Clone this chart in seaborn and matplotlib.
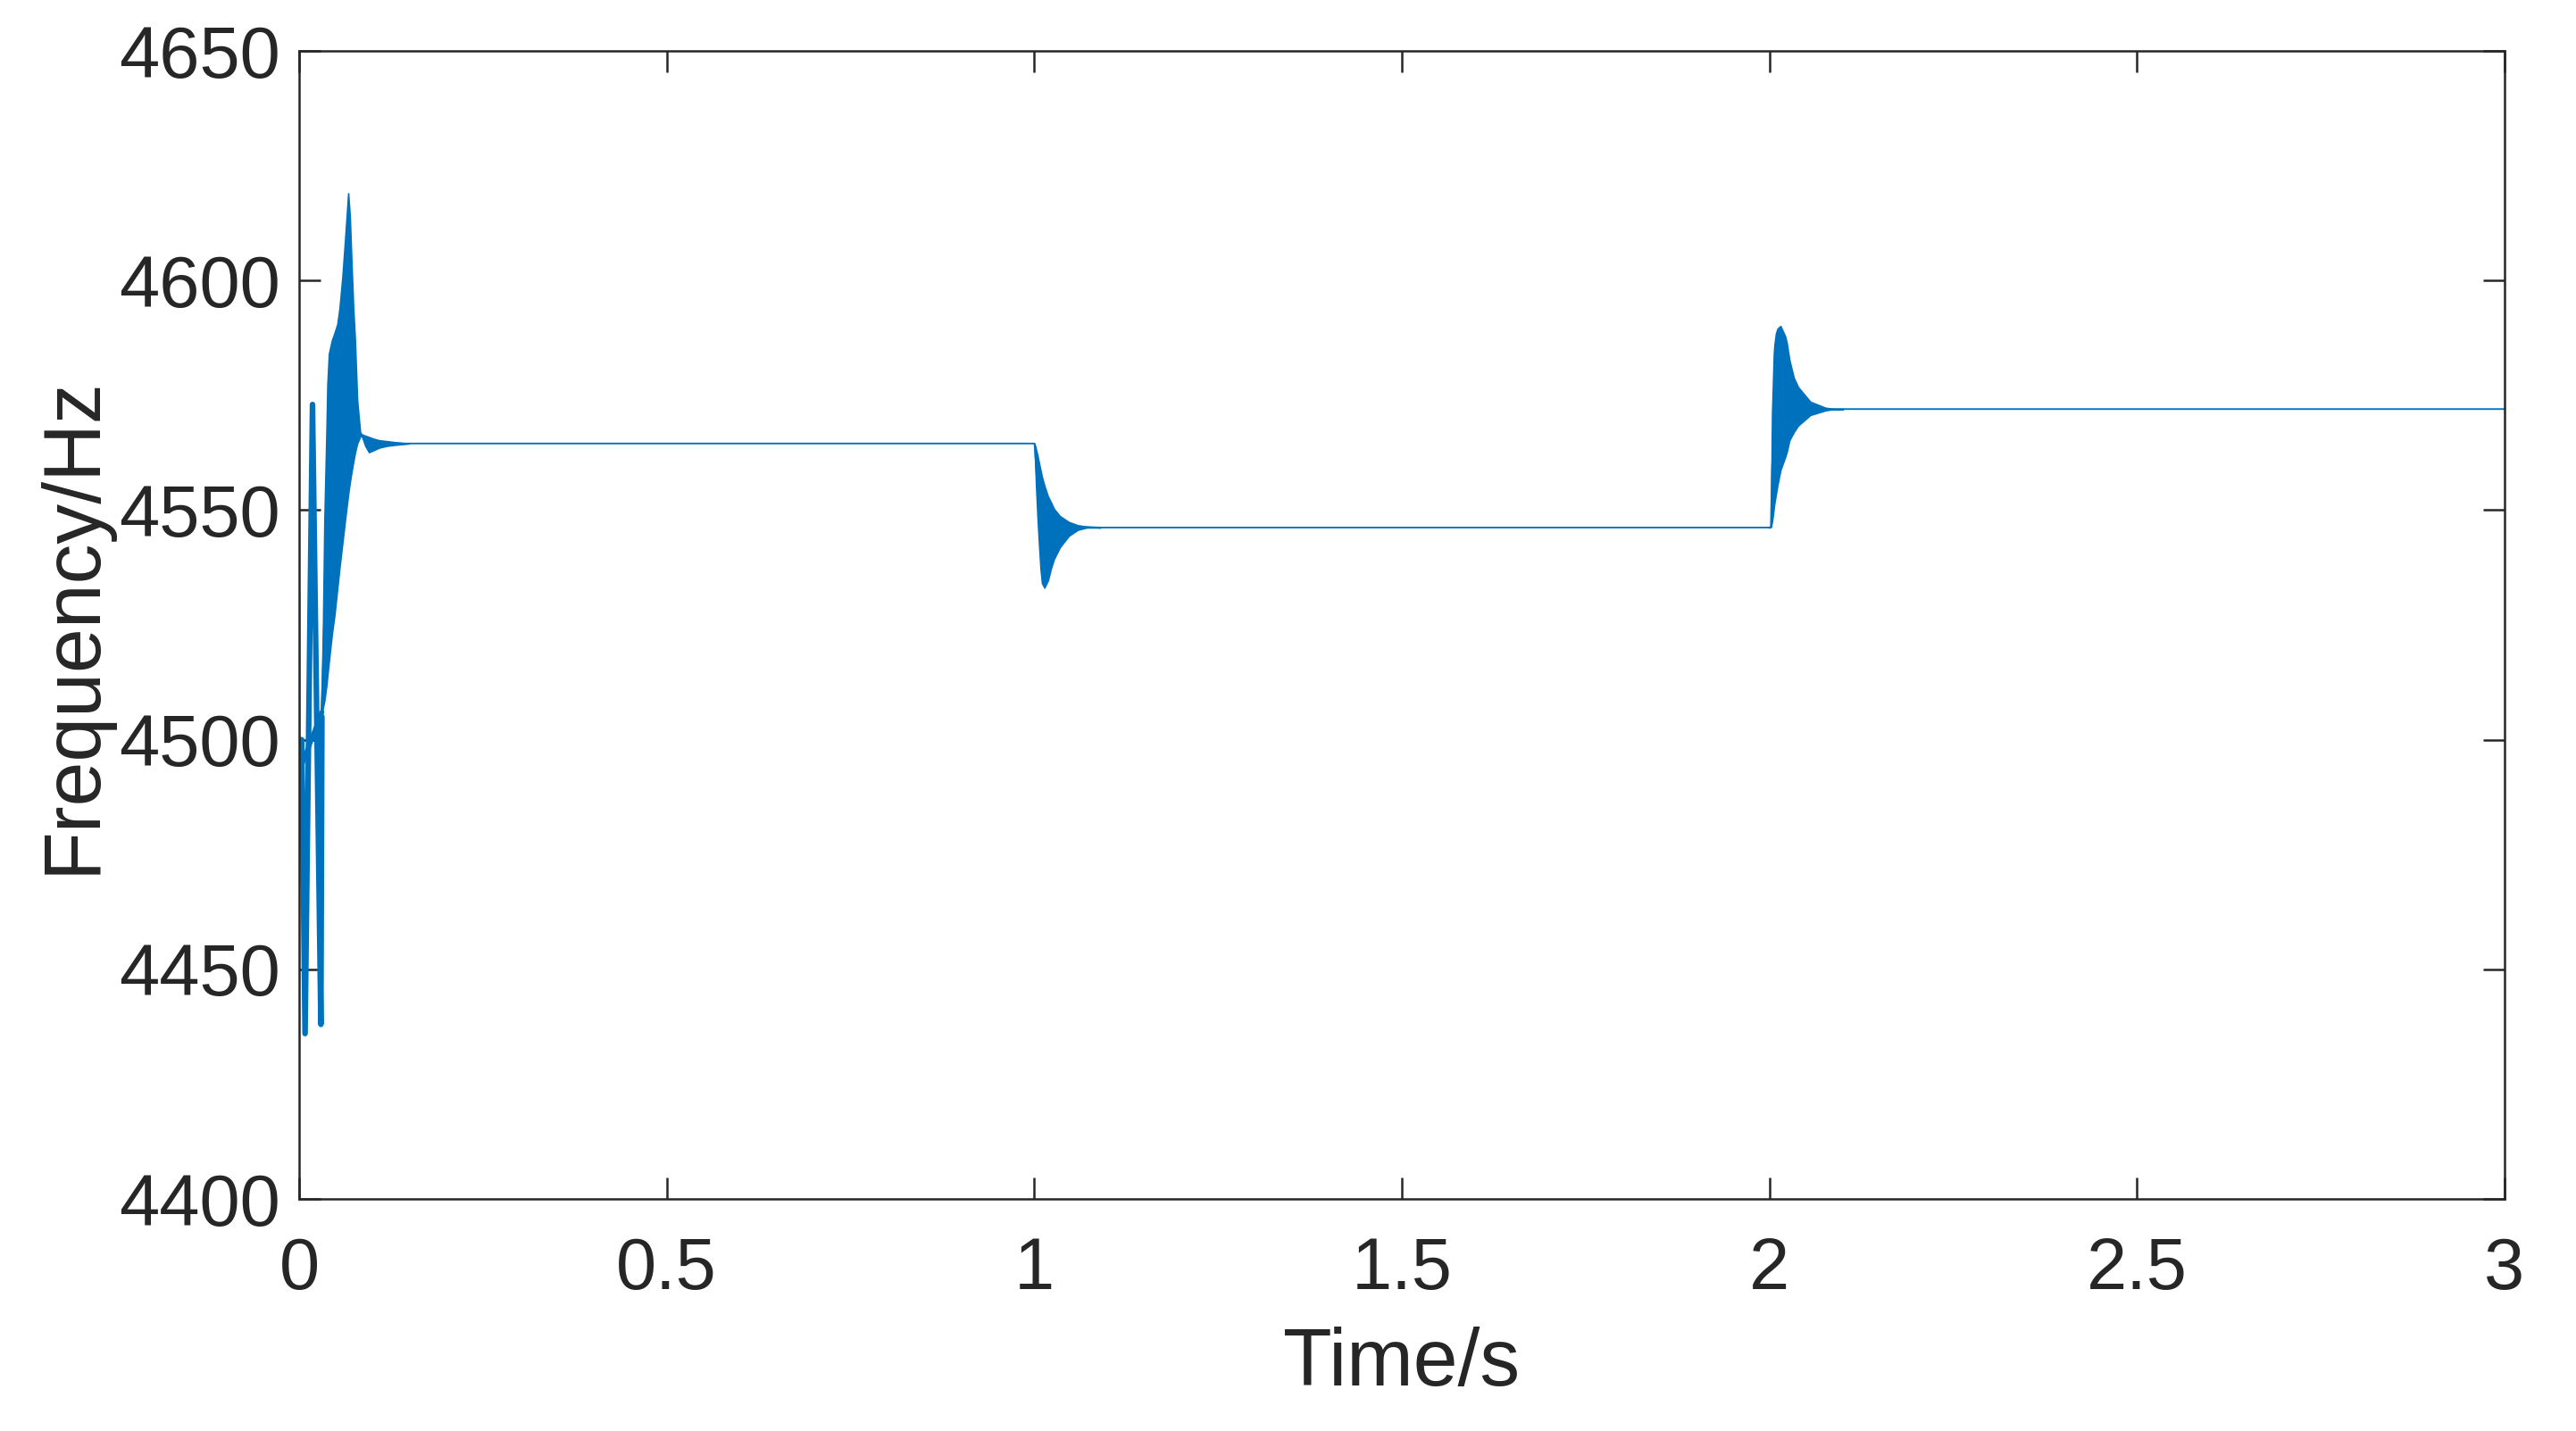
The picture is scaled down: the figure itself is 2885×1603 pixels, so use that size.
import numpy as np
import pandas as pd
import seaborn as sns
import matplotlib.pyplot as plt

# start-up strands before the oscillation band (time s, frequency Hz)
spike_t = [0.0, 0.0, 0.0035, 0.0081, 0.0182, 0.0296, 0.031]
spike_f = [4468, 4532, 4500, 4436, 4573, 4438, 4505]
drift_t = [0.0, 0.031]
drift_f = [4493, 4506]

# start-up band envelope
tA = [0.030, 0.0325, 0.0344, 0.0373, 0.0385, 0.0405, 0.0446, 0.048, 0.052, 0.055,
      0.059, 0.063, 0.0668, 0.069, 0.0715, 0.0737, 0.076, 0.079, 0.083, 0.085,
      0.090, 0.095, 0.102, 0.109, 0.12, 0.13, 0.15]
hiA = [4505, 4525, 4548, 4568, 4577.5, 4584, 4587, 4588.5, 4590.5, 4594,
       4601, 4610, 4619, 4614, 4603, 4594, 4587, 4574, 4567, 4566.5,
       4566.2, 4565.9, 4565.5, 4565.2, 4565.0, 4564.8, 4564.5]
loA = [4505, 4507, 4508.5, 4512, 4514, 4517, 4523, 4527, 4533, 4537.5,
       4543, 4548.5, 4553.5, 4556, 4558.5, 4560.5, 4562.5, 4564.5, 4566, 4566.3,
       4564, 4562.6, 4563.1, 4563.6, 4564.0, 4564.2, 4564.5]

# step at t = 1 s
tB = [1.0, 1.0004, 1.0024, 1.0044, 1.0065, 1.0085, 1.0105, 1.0138, 1.0186, 1.0227,
      1.0267, 1.0348, 1.047, 1.0591, 1.0713, 1.09]
hiB = [4564.5, 4564.4, 4563.2, 4561.9, 4560.2, 4558.7, 4557.2, 4555.3, 4553.0, 4551.7,
       4550.3, 4548.7, 4547.4, 4546.7, 4546.4, 4546.2]
loB = [4564.5, 4564.4, 4555.5, 4548.5, 4542.5, 4537.3, 4534.1, 4533.1, 4534.7, 4537.3,
       4539.3, 4541.9, 4544.4, 4545.7, 4546.2, 4546.2]

# step at t = 2 s
tC = [2.0, 2.002, 2.0036, 2.0049, 2.006, 2.0069, 2.0089, 2.011, 2.015, 2.0213,
      2.0235, 2.0272, 2.0332, 2.039, 2.0556, 2.0759, 2.088, 2.10]
hiC = [4546.2, 4546.4, 4571, 4578, 4584, 4586, 4588.5, 4589.5, 4590.1, 4587.9,
       4586.5, 4582.7, 4578.8, 4576.8, 4573.6, 4572.3, 4572.0, 4572.0]
loC = [4546.2, 4546.4, 4547.5, 4549, 4550.5, 4551.6, 4553.5, 4555.5, 4558.7, 4561.5,
       4562.6, 4565.2, 4567.0, 4568.4, 4570.7, 4571.7, 4572.0, 4572.0]

end_t, end_f = 3.0, 4572.0

xticks = [0, 0.5, 1, 1.5, 2, 2.5, 3]
xticklabels = ['0', '0.5', '1', '1.5', '2', '2.5', '3']
yticks = [4400, 4450, 4500, 4550, 4600, 4650]

blue = '#0072BD'
ink = '#262626'

sns.set_theme(style='white')
plt.rcParams['font.family'] = ['Liberation Sans', 'DejaVu Sans']

# centre trace through all segments (the steady parts)
seg = pd.DataFrame({
    't': tA + tB + tC + [end_t],
    'f': [(h + l) / 2 for h, l in zip(hiA + hiB + hiC, loA + loB + loC)] + [end_f],
})

fig = plt.figure(figsize=(2885 / 300, 1603 / 300), dpi=300)
ax = fig.add_axes([335 / 2885, 1 - 1343 / 1603, (2805 - 335) / 2885, (1343 - 57) / 1603])

for tt, hh, ll in [(tA, hiA, loA), (tB, hiB, loB), (tC, hiC, loC)]:
    ax.fill_between(tt, ll, hh, color=blue, lw=0.4, edgecolor=blue)

sns.lineplot(data=seg, x='t', y='f', color=blue, lw=0.45, sort=False, ax=ax)
sns.lineplot(x=spike_t, y=spike_f, color=blue, lw=1.5, sort=False, ax=ax)
sns.lineplot(x=drift_t, y=drift_f, color=blue, lw=1.3, sort=False, ax=ax)

ax.set_xlim(0, 3)
ax.set_ylim(4400, 4650)
ax.set_xticks(xticks)
ax.set_xticklabels(xticklabels)
ax.set_yticks(yticks)
ax.tick_params(direction='in', length=5.8, width=0.6, color=ink, labelcolor=ink,
               labelsize=19.5, top=True, right=True, bottom=True, left=True)
ax.tick_params(axis='x', pad=10)
ax.tick_params(axis='y', pad=5)
for s in ax.spines.values():
    s.set_color(ink)
    s.set_linewidth(0.6)

ax.set_xlabel('Time/s', fontsize=21.5, color=ink, labelpad=6)
ax.set_ylabel('Frequency/Hz', fontsize=21.5, color=ink, labelpad=2)

fig.savefig('out.png', dpi=300, facecolor='white')
